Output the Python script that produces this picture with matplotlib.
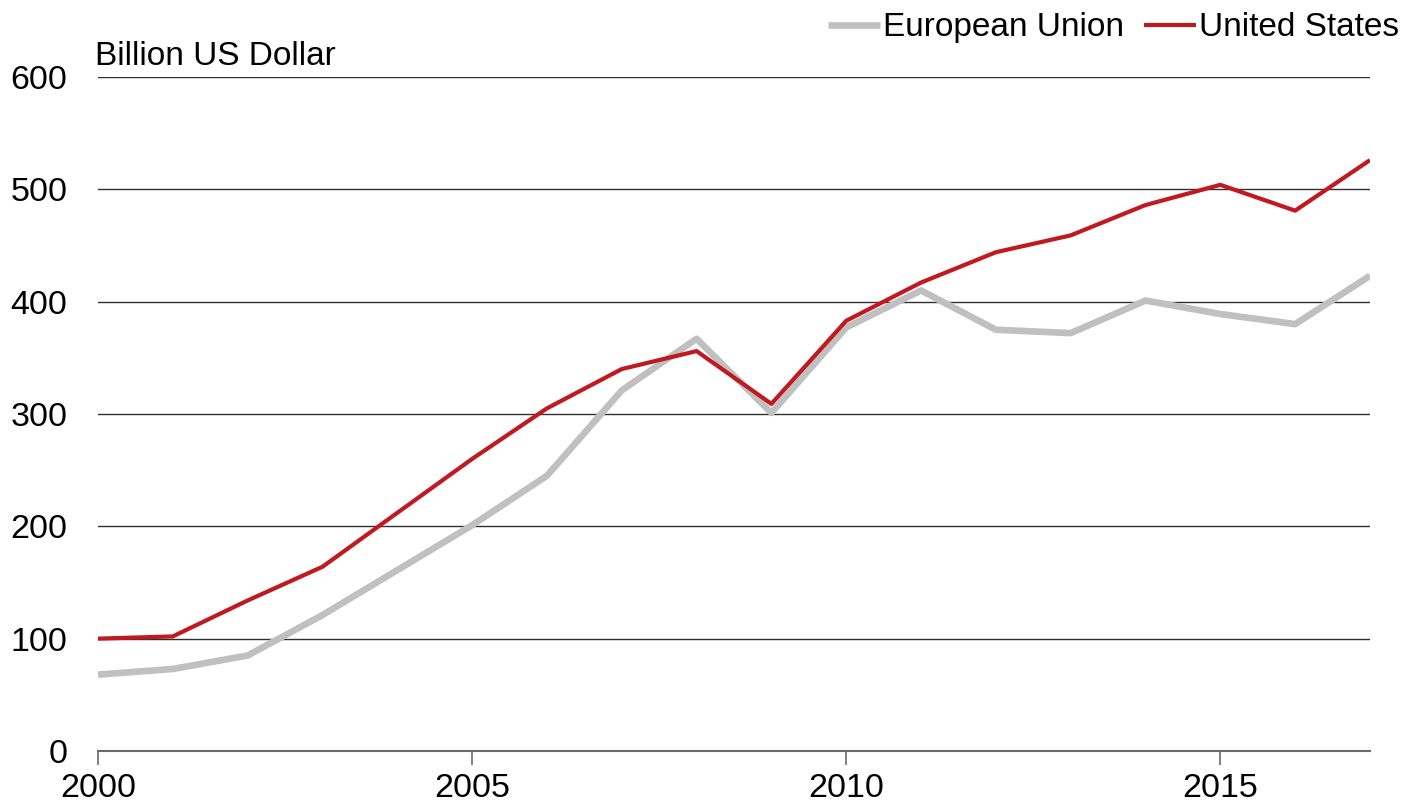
import matplotlib
matplotlib.use("Agg")
import matplotlib.pyplot as plt

plt.rcParams['font.family'] = ['Liberation Sans', 'DejaVu Sans']

years = list(range(2000, 2018))
eu = [68, 73, 85, 121, 161, 201, 245, 321, 367, 301, 377, 410, 375, 372, 401, 389, 380, 423]
us = [100, 102, 134, 164, 212, 260, 305, 340, 356, 309, 383, 417, 444, 459, 486, 504, 481, 526]
yticks = [0, 100, 200, 300, 400, 500, 600]
xticks = [2000, 2005, 2010, 2015]

fig = plt.figure(figsize=(14.1, 8.07), dpi=100)
ax = fig.add_axes([0.0695, 0.0694, 0.9021, 0.8352])

ax.plot(years, eu, color='#C0C0C0', lw=4.8, label='European Union', solid_capstyle='butt', zorder=3)
ax.plot(years, us, color='#C0191F', lw=3.0, label='United States', solid_capstyle='butt', zorder=4)

ax.set_xlim(2000, 2017)
ax.set_ylim(0, 600)
ax.set_yticks(yticks)
ax.set_xticks(xticks)
ax.grid(axis='y', color='#303030', lw=1.0, zorder=1)
ax.set_axisbelow(True)
for s in ['top', 'right', 'left']:
    ax.spines[s].set_visible(False)
ax.spines['bottom'].set_color('#6b6b6b')
ax.spines['bottom'].set_linewidth(1.5)
ax.tick_params(axis='y', length=0, pad=22, labelsize=24.5)
ax.tick_params(axis='x', length=10, width=1.2, color='#6b6b6b', pad=6, labelsize=24.5)

ax.text(-0.002, 1.008, 'Billion US Dollar', transform=ax.transAxes, fontsize=24,
        ha='left', va='bottom')

leg = fig.legend(loc='upper right', bbox_to_anchor=(1.0043, 1.0055), ncol=2, frameon=False,
                 fontsize=24, handlelength=1.55, handletextpad=0.1, columnspacing=0.6,
                 borderaxespad=0.1)

fig.savefig('out.png', dpi=100)
